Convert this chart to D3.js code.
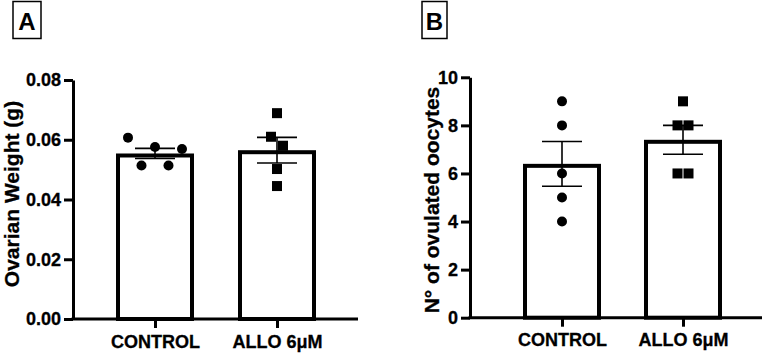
<!DOCTYPE html>
<html>
<head>
<meta charset="utf-8">
<script src="https://cdn.jsdelivr.net/npm/d3@7"></script>
<style>
  body { margin: 0; background: #fff; }
  svg { display: block; font-family: "Liberation Sans", Arial, sans-serif; font-weight: bold; }
  .axis path, .axis line { stroke: #000; stroke-width: 3px; }
  .axis text { font-size: 18px; font-weight: bold; fill: #000; font-family: "Liberation Sans", Arial, sans-serif; stroke: #000; stroke-width: 0.3px; }
</style>
</head>
<body>
<script>
// groups on the x axis
var groups = ["CONTROL", "ALLO 6\u03bcM"];

// panel A : ovarian weight (g)
var weightTicks = [0, 0.02, 0.04, 0.06, 0.08];
var weightMean = [0.0554, 0.0565];
var weightSem = [0.0017, 0.0043];
var weightControl = [0.0607, 0.0576, 0.0569, 0.0514, 0.0514];
var weightAllo = [0.0689, 0.0610, 0.0580, 0.0502, 0.0445];

// panel B : number of ovulated oocytes
var oocyteTicks = [0, 2, 4, 6, 8, 10];
var oocyteMean = [6.4, 7.4];
var oocyteSem = [0.93, 0.6];
var oocyteControl = [9, 8, 6, 5, 4];
var oocyteAllo = [9, 8, 8, 6, 6];

// horizontal scatter of the dots (px), like prism does it
var jitterA = [[-27, 0, 27, -13.5, 13.5], [0, -6, 6, 0, 0]];
var jitterB = [[0, 0, 0, 0, 0], [0, -5.5, 5.5, -5.5, 5.5]];

var svg = d3.select("body").append("svg")
  .attr("width", 767)
  .attr("height", 355);

function panel(o) {
  var g = svg.append("g");

  var x = d3.scalePoint()
    .domain(groups)
    .range([o.c0, o.c1]);
  var y = d3.scaleLinear()
    .domain([0, d3.max(o.ticks)])
    .range([o.bottom, o.top]);

  var bw = 74; // bar width (stroke centre to stroke centre)
  var sw = 4;

  // bars
  g.selectAll(".bar")
    .data(o.mean)
    .enter().append("rect")
      .attr("x", function(d, i) { return x(groups[i]) - bw / 2; })
      .attr("y", function(d) { return y(d) + sw / 2; })
      .attr("width", bw)
      .attr("height", function(d) { return o.bottom - y(d) - sw / 2; })
      .attr("fill", "#fff")
      .attr("stroke", "#000")
      .attr("stroke-width", sw);

  // dots
  o.points.forEach(function(vals, gi) {
    var cx = x(groups[gi]);
    vals.forEach(function(v, j) {
      var px = cx + o.jitter[gi][j];
      if (gi == 0) {
        g.append("circle")
          .attr("cx", px)
          .attr("cy", y(v))
          .attr("r", 5)
          .attr("fill", "#000");
      } else {
        g.append("rect")
          .attr("x", px - 5)
          .attr("y", y(v) - 5)
          .attr("width", 10)
          .attr("height", 10)
          .attr("fill", "#000");
      }
    });
  });

  // error bars (mean +/- sem)
  o.mean.forEach(function(m, i) {
    var cx = x(groups[i]);
    var hi = y(m + o.sem[i]), lo = y(m - o.sem[i]);
    g.append("line")
      .attr("x1", cx).attr("x2", cx)
      .attr("y1", hi).attr("y2", lo)
      .attr("stroke", "#000").attr("stroke-width", 1.6);
    [hi, lo].forEach(function(yy) {
      g.append("line")
        .attr("x1", cx - 20).attr("x2", cx + 20)
        .attr("y1", yy).attr("y2", yy)
        .attr("stroke", "#000").attr("stroke-width", 1.6);
    });
  });

  // axes
  var yAxis = d3.axisLeft(y)
    .tickValues(o.ticks)
    .tickFormat(o.fmt)
    .tickSize(9)
    .tickPadding(3)
    .tickSizeOuter(0);
  g.append("g")
    .attr("class", "axis")
    .attr("transform", "translate(" + o.left + ",0)")
    .call(yAxis);

  g.append("line")
    .attr("x1", o.left - 1.5).attr("x2", o.right)
    .attr("y1", o.bottom).attr("y2", o.bottom)
    .attr("stroke", "#000").attr("stroke-width", 3);

  var xAxis = d3.axisBottom(x)
    .tickSize(9)
    .tickPadding(7)
    .tickSizeOuter(0);
  var xa = g.append("g")
    .attr("class", "axis")
    .attr("transform", "translate(0," + o.bottom + ")")
    .call(xAxis);
  xa.select(".domain").remove();

  // y title
  g.append("text")
    .attr("transform", "translate(" + o.titleX + "," + o.titleY + ") rotate(-90)")
    .attr("text-anchor", "middle")
    .attr("font-size", "21px")
    .attr("stroke", "#000")
    .attr("stroke-width", 0.3)
    .text(o.title);

  // panel letter in a box
  g.append("rect")
    .attr("x", o.box[0]).attr("y", o.box[1])
    .attr("width", o.box[2]).attr("height", o.box[3])
    .attr("fill", "none")
    .attr("stroke", "#000")
    .attr("stroke-width", 1.5);
  g.append("text")
    .attr("x", o.box[0] + o.box[2] / 2)
    .attr("y", o.box[1] + 28)
    .attr("text-anchor", "middle")
    .attr("font-size", "24px")
    .text(o.letter);
}

panel({
  letter: "A", box: [13, 1.5, 28, 37],
  left: 73, right: 358, top: 80, bottom: 319,
  c0: 155, c1: 277,
  ticks: weightTicks, fmt: d3.format(".2f"),
  mean: weightMean, sem: weightSem,
  points: [weightControl, weightAllo], jitter: jitterA,
  title: "Ovarian Weight (g)", titleX: 19, titleY: 194
});

panel({
  letter: "B", box: [422, 1.5, 25, 37],
  left: 470, right: 762, top: 77.3, bottom: 317.7,
  c0: 562, c1: 683,
  ticks: oocyteTicks, fmt: d3.format("d"),
  mean: oocyteMean, sem: oocyteSem,
  points: [oocyteControl, oocyteAllo], jitter: jitterB,
  title: "N\u00b0 of ovulated oocytes", titleX: 439, titleY: 200
});
</script>
</body>
</html>
